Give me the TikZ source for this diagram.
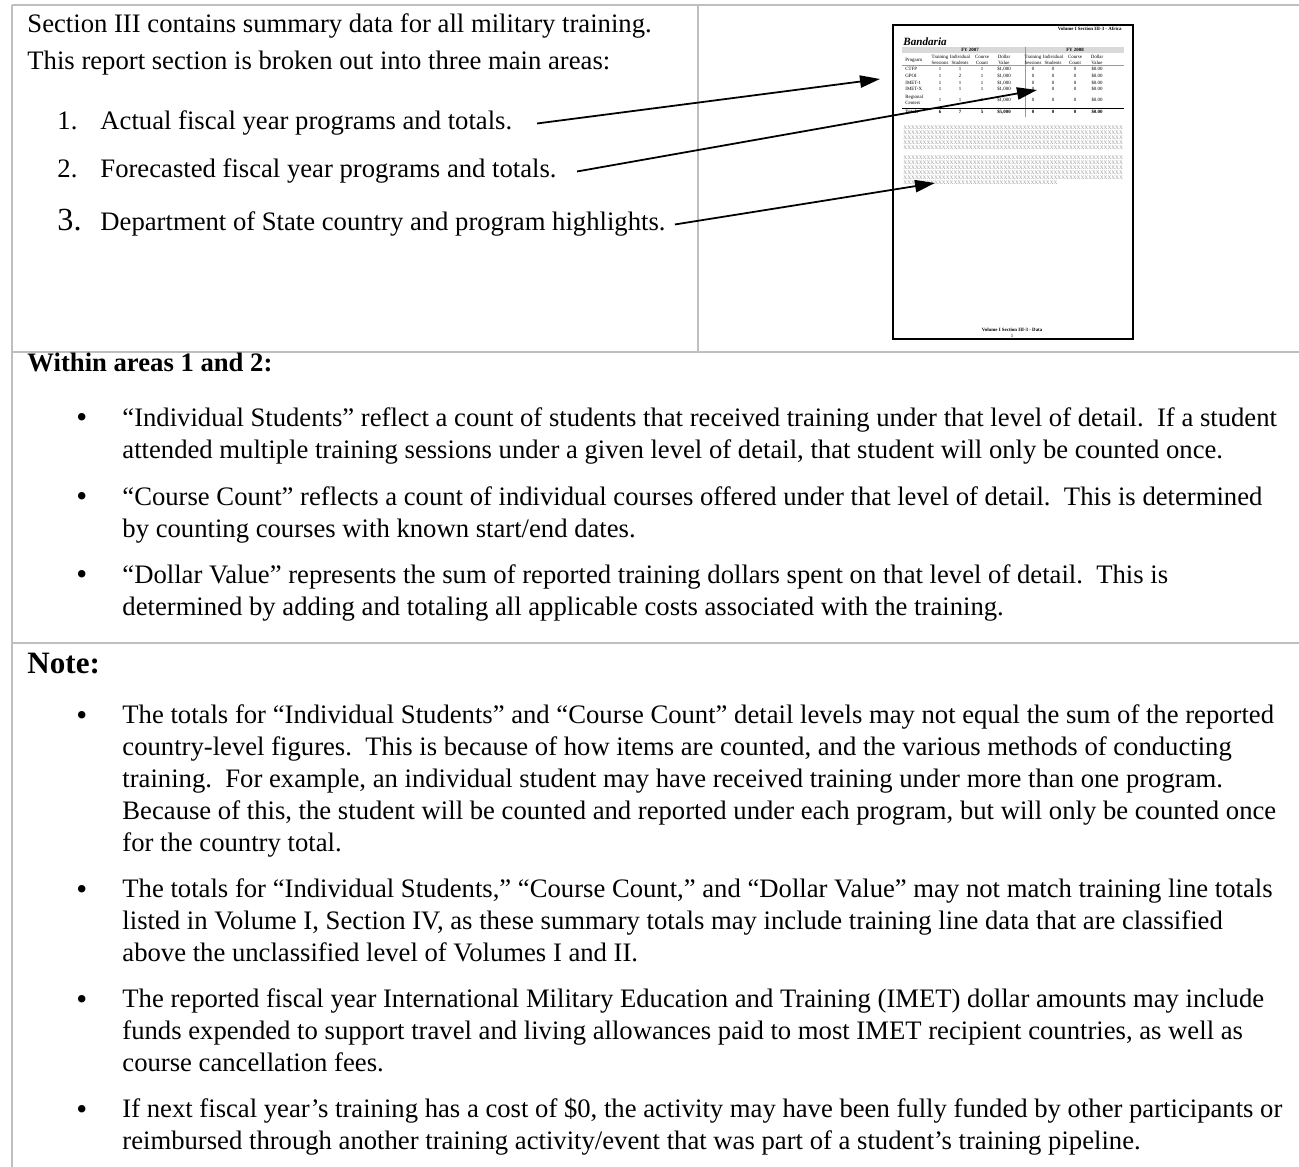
\documentclass[tikz,border=0pt]{standalone}
\usepackage{fontspec}
\setmainfont{Liberation Serif}
\usetikzlibrary{arrows.meta}

\definecolor{rulegrey}{HTML}{BFBFBF}
\definecolor{bandgrey}{HTML}{D9D9D9}
\definecolor{xgrey}{HTML}{9A9A9A}

\newcommand{\xten}{XXXXXXXXXX}
\newcommand{\xrow}{\xten\xten\xten\xten\xten XXXXXXX}

\begin{document}
\begin{tikzpicture}[x=0.45pt,y=-0.45pt,
    rule/.style={draw=rulegrey,line width=0.9pt},
    dot/.style={font=\fontsize{14}{16}\selectfont},
    pointer/.style={-{Triangle[length=9pt,width=5.5pt]},line width=0.8pt}]

  \useasboundingbox (0,0) rectangle (1299,1167);

  % table rules
  \draw[rule] (12,5) -- (1299,5);
  \draw[rule] (12,5) -- (12,1167);
  \draw[rule] (698,5) -- (698,352);
  \draw[rule] (12,352) -- (1299,352);
  \draw[rule] (12,643) -- (1299,643);

  % top left cell
  \begin{scope}[every node/.style={anchor=base west,inner sep=0pt,font=\fontsize{12}{14.4}\selectfont}]
    \node (intro) at (27,33)  {Section III contains summary data for all military training.};
    \node (areas) at (27,70)  {This report section is broken out into three main areas:};
    \node (n1)    at (57,130) {1.};
    \node (a1)    at (100,130) {Actual fiscal year programs and totals.};
    \node (n2)    at (57,178) {2.};
    \node (a2)    at (100,178) {Forecasted fiscal year programs and totals.};
    \node[font=\fontsize{14.5}{16}\selectfont] (n3) at (57,231) {3.};
    \node (a3)    at (100,231) {Department of State country and program highlights.};
  \end{scope}

  % page thumbnail
  \draw[line width=0.8pt] (893,25) rectangle (1133,339);
  \begin{scope}[every node/.style={inner sep=0pt,font=\fontsize{2.2}{2.6}\selectfont}]
    \node[anchor=east] (thead) at (1122,29) {\bfseries Volume I Section III-3 - Africa};
    \node[anchor=west,font=\fontsize{5}{6}\bfseries\itshape] (tname) at (903,42) {Bandaria};
    \fill[bandgrey] (902,47) rectangle (1124,53);
    \node (fy7) at (970,50)  {\bfseries FY 2007};
    \node (fy8) at (1075,50) {\bfseries FY 2008};
    \draw[xgrey,line width=0.2pt] (1025,47) -- (1025,117);
    \draw[xgrey,line width=0.2pt] (902,65) -- (1124,65);
    \draw[black,line width=0.3pt] (902,108) -- (1124,108);
    \node[anchor=west] (tprog) at (905,60) {Program};
    \foreach \cx in {940,1033} {
      \node[align=center] at (\cx,60)    {Training\\Sessions};
      \node[align=center] at (\cx+20,60) {Individual\\Students};
      \node[align=center] at (\cx+42,60) {Course\\Count};
      \node[align=center] at (\cx+64,60) {Dollar\\Value};
    }
    \node[anchor=west] (tr1) at (905,69) {CTFP};
    \node[anchor=west] (tr2) at (905,76) {GPOI};
    \node[anchor=west] (tr3) at (905,83) {IMET-1};
    \node[anchor=west] (tr4) at (905,89) {IMET-X};
    \node[anchor=west,align=left] (tr5) at (905,100) {Regional\\Centers};
    \node[anchor=west] (tr6) at (905,112) {\bfseries Totals};
    \foreach \ry/\va/\vb/\vc/\vd in {69/1/1/1/1, 76/1/2/1/1, 83/1/1/1/1, 89/1/1/1/1, 100/1/1/1/1} {
      \node at (940,\ry)  {\va};
      \node at (960,\ry)  {\vb};
      \node at (982,\ry)  {\vc};
      \node at (1004,\ry) {\$\vd,000};
      \node at (1033,\ry) {0};
      \node at (1053,\ry) {0};
      \node at (1075,\ry) {0};
      \node at (1097,\ry) {\$0.00};
    }
    \node (tt1) at (940,112)  {\bfseries 6};
    \node (tt2) at (960,112)  {\bfseries 7};
    \node (tt3) at (982,112)  {\bfseries 5};
    \node (tt4) at (1004,112) {\bfseries \$5,000};
    \node (tt5) at (1033,112) {\bfseries 0};
    \node (tt6) at (1053,112) {\bfseries 0};
    \node (tt7) at (1075,112) {\bfseries 0};
    \node (tt8) at (1097,112) {\bfseries \$0.00};
    \node[anchor=north west,align=left,text=xgrey,font=\fontsize{2.4}{2.25}\selectfont] (xa) at (903,126)
      {\xrow\\\xrow\\\xrow\\\xrow\\\xrow};
    \node[anchor=north west,align=left,text=xgrey,font=\fontsize{2.4}{2.25}\selectfont] (xb) at (903,156)
      {\xrow\\\xrow\\\xrow\\\xrow\\\xrow\\\xten\xten\xten\xten};
    \node[align=center] (tfoot) at (1012,333) {\bfseries Volume I Section III-3 - Data\\1};
  \end{scope}

  % arrows into the thumbnail
  \coordinate (tip1) at (880,79);
  \coordinate (tip2) at (1037,90);
  \coordinate (tip3) at (935,183);
  \draw[pointer] ([xshift=11pt]a1.east) -- (tip1);
  \draw[pointer] ([xshift=9pt]a2.east) -- (tip2);
  \draw[pointer] ([xshift=4pt]a3.east) -- (tip3);

  % areas 1 and 2 (multi-line nodes sit on their last baseline)
  \begin{scope}[every node/.style={anchor=base west,inner sep=0pt,align=left,font=\fontsize{12}{14.4}\selectfont}]
    \node[font=\fontsize{12}{14.4}\bfseries] (within) at (27,372) {Within areas 1 and 2:};
    \node[dot] (dot1) at (76,428) {•};
    \node (b1)   at (122,459) {“Individual Students” reflect a count of students that received training under that level of detail.\ \ If a student\\attended multiple training sessions under a given level of detail, that student will only be counted once.};
    \node[dot] (dot2) at (76,506) {•};
    \node (b2)   at (122,537) {“Course Count” reflects a count of individual courses offered under that level of detail.\ \ This is determined\\by counting courses with known start/end dates.};
    \node[dot] (dot3) at (76,584) {•};
    \node (b3)   at (122,615) {“Dollar Value” represents the sum of reported training dollars spent on that level of detail.\ \ This is\\determined by adding and totaling all applicable costs associated with the training.};
  \end{scope}

  % notes
  \begin{scope}[every node/.style={anchor=base west,inner sep=0pt,align=left,font=\fontsize{12}{14.4}\selectfont}]
    \node[font=\fontsize{14}{16}\bfseries] (note) at (27,673) {Note:};
    \node[dot] (dot4) at (76,725)  {•};
    \node (c1)   at (122,851)  {The totals for “Individual Students” and “Course Count” detail levels may not equal the sum of the reported\\country-level figures.\ \ This is because of how items are counted, and the various methods of conducting\\training.\ \ For example, an individual student may have received training under more than one program.\\Because of this, the student will be counted and reported under each program, but will only be counted once\\for the country total.};
    \node[dot] (dot5) at (76,899)  {•};
    \node (c2)   at (122,961)  {The totals for “Individual Students,” “Course Count,” and “Dollar Value” may not match training line totals\\listed in Volume I, Section IV, as these summary totals may include training line data that are classified\\above the unclassified level of Volumes I and II.};
    \node[dot] (dot6) at (76,1009) {•};
    \node (c3)   at (122,1071) {The reported fiscal year International Military Education and Training (IMET) dollar amounts may include\\funds expended to support travel and living allowances paid to most IMET recipient countries, as well as\\course cancellation fees.};
    \node[dot] (dot7) at (76,1119) {•};
    \node (c4)   at (122,1149) {If next fiscal year’s training has a cost of \$0, the activity may have been fully funded by other participants or\\reimbursed through another training activity/event that was part of a student’s training pipeline.};
  \end{scope}

\end{tikzpicture}
\end{document}
